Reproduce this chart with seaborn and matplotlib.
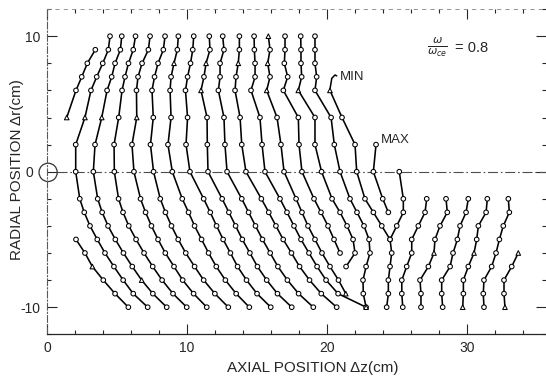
import matplotlib
matplotlib.use("Agg")
import matplotlib.pyplot as plt
from matplotlib.patches import Ellipse
from matplotlib.ticker import MultipleLocator
import pandas as pd
import seaborn as sns

# ---------------------------------------------------------------------------
# Measured wavefront positions: axial position z (cm) at each radial level r (cm)
# ---------------------------------------------------------------------------
r_upper = [10, 9, 8, 7, 6, 4, 2, 0]
r_lower = [-2, -3, -4, -5, -6, -7, -8, -9, -10]

front_a_r = [9, 8, 7, 6, 4]
front_a_z = [3.45, 2.88, 2.48, 2.07, 1.41]

front_l1_r = [-5, -6, -7, -8, -9, -10]
front_l1_z = [2.07, 2.71, 3.24, 4.02, 4.86, 5.81]

front_01_z = [4.50, 4.38, 3.98, 3.55, 3.14, 2.71, 2.05, 2.05,
              2.34, 2.66, 3.07, 3.59, 4.14, 4.78, 5.44, 6.16, 7.19]
front_02_z = [5.34, 5.24, 4.86, 4.62, 4.29, 3.91, 3.43, 3.31,
              3.62, 3.94, 4.36, 4.88, 5.46, 6.09, 6.76, 7.56, 8.55]
front_03_z = [6.32, 6.16, 5.82, 5.57, 5.36, 5.12, 4.79, 4.81,
              5.11, 5.43, 5.84, 6.36, 6.93, 7.55, 8.22, 9.00, 9.98]
front_04_z = [7.36, 7.24, 6.79, 6.50, 6.39, 6.41, 6.07, 6.21,
              6.68, 7.04, 7.46, 7.93, 8.45, 9.07, 9.69, 10.47, 11.41]
front_05_z = [8.43, 8.31, 7.93, 7.68, 7.50, 7.59, 7.39, 7.61,
              8.09, 8.46, 8.89, 9.37, 9.91, 10.54, 11.19, 11.99, 12.95]
front_06_z = [9.38, 9.31, 9.07, 8.86, 8.79, 8.86, 8.64, 8.95,
              9.66, 10.11, 10.54, 11.04, 11.54, 12.09, 12.74, 13.51, 14.45]
front_07_z = [10.48, 10.41, 10.25, 10.04, 9.89, 10.04, 9.93, 10.21,
              11.19, 11.66, 12.11, 12.58, 13.10, 13.61, 14.25, 15.00, 15.98]
front_08_z = [11.59, 11.64, 11.36, 11.21, 11.00, 11.43, 11.45, 11.50,
              12.51, 12.99, 13.47, 13.95, 14.49, 15.03, 15.69, 16.46, 17.48]
front_09_z = [12.55, 12.64, 12.36, 12.36, 12.24, 12.64, 12.71, 12.86,
              13.91, 14.40, 14.89, 15.39, 15.94, 16.49, 17.17, 17.97, 19.02]
front_10_z = [13.74, 13.74, 13.66, 13.50, 13.43, 13.79, 13.91, 14.21,
              15.31, 15.84, 16.35, 16.87, 17.46, 18.04, 18.75, 19.59, 20.69]
front_11_z = [14.79, 14.81, 14.86, 14.86, 14.57, 15.21, 15.36, 15.57,
              16.64, 17.14, 17.64, 18.14, 18.71, 19.29, 19.93, 20.79, 22.79]
front_12_z = [15.81, 15.93, 15.76, 15.93, 15.69, 16.43, 16.71, 16.93,
              17.79, 18.21, 18.64, 19.14, 19.64, 20.21, 20.82, 21.34]
front_13_z = [17.00, 17.00, 16.95, 17.19, 16.88, 17.95, 18.00, 18.21,
              19.07, 19.57, 20.07, 20.50, 20.93]
front_14_z = [18.12, 18.14, 18.14, 18.19, 17.95, 19.14, 19.14, 19.61,
              20.36, 20.93, 21.43, 21.86, 22.00, 21.36]
front_15_z = [19.14, 19.14, 19.14, 19.26, 19.14, 20.29, 20.52, 20.93,
              21.64, 22.14, 22.64, 23.00, 23.07, 22.79, 22.57, 22.59, 22.79]

front_min_r = [6, 4, 2, 0, -2, -3, -4, -5, -6, -7, -8, -9, -10]
front_min_z = [20.21, 21.07, 22.00, 22.12, 22.71, 23.31, 23.91, 24.50,
               24.62, 24.50, 24.38, 24.38, 24.26]

front_max_r = [2, 0, -2, -3]
front_max_z = [23.50, 23.31, 23.98, 24.38]

front_18_r = [0, -2, -3, -4, -5]
front_18_z = [25.16, 25.45, 25.45, 24.98, 24.50]

front_r1_z = [27.12, 27.00, 26.52, 26.05, 26.05, 25.69, 25.34, 25.34, 25.41]
front_r2_z = [28.50, 28.59, 28.07, 27.71, 27.64, 27.24, 26.64, 26.71, 26.71]
front_r3_z = [30.09, 29.93, 29.50, 29.31, 29.00, 28.79, 28.19, 28.19, 28.26]
front_r4_z = [31.45, 31.36, 30.81, 30.69, 30.50, 30.09, 29.74, 29.74, 29.69]
front_r5_z = [32.95, 33.02, 32.59, 32.31, 32.07, 31.76, 31.21, 31.16, 31.21]
front_r6_r = [-6, -7, -8, -9, -10]
front_r6_z = [33.66, 33.19, 32.64, 32.64, 32.71]

# points plotted with a triangle instead of a circle
triangle_points = [("A", 4), ("01", 4), ("02", 4), ("04", 4), ("06", 8),
                   ("08", 8), ("08", 6), ("10", 8), ("12", 10), ("12", 8),
                   ("12", 6), ("14", 6), ("12", -9), ("L1", -7), ("02", -8),
                   ("MIN", 6), ("R2", -6), ("R4", -6), ("R6", -6),
                   ("R4", -10), ("R6", -10), ("15", -10)]

full_r = r_upper + r_lower
fronts = {
    "A": (front_a_z, front_a_r),
    "L1": (front_l1_z, front_l1_r),
    "01": (front_01_z, full_r),
    "02": (front_02_z, full_r),
    "03": (front_03_z, full_r),
    "04": (front_04_z, full_r),
    "05": (front_05_z, full_r),
    "06": (front_06_z, full_r),
    "07": (front_07_z, full_r),
    "08": (front_08_z, full_r),
    "09": (front_09_z, full_r),
    "10": (front_10_z, full_r),
    "11": (front_11_z, full_r),
    "12": (front_12_z, r_upper + r_lower[:8]),
    "13": (front_13_z, r_upper + r_lower[:5]),
    "14": (front_14_z, r_upper + r_lower[:6]),
    "15": (front_15_z, full_r),
    "MIN": (front_min_z, front_min_r),
    "MAX": (front_max_z, front_max_r),
    "18": (front_18_z, front_18_r),
    "R1": (front_r1_z, r_lower),
    "R2": (front_r2_z, r_lower),
    "R3": (front_r3_z, r_lower),
    "R4": (front_r4_z, r_lower),
    "R5": (front_r5_z, r_lower),
    "R6": (front_r6_z, front_r6_r),
}

rows = []
tri = set(triangle_points)
for name, (zs, rs) in fronts.items():
    for i, (z, r) in enumerate(zip(zs, rs)):
        rows.append({"front": name, "order": i, "z": z, "r": r,
                     "mark": "tri" if (name, r) in tri else "circ"})
df = pd.DataFrame(rows)

# ---------------------------------------------------------------------------
sns.set_theme(style="white")
plt.rcParams["font.family"] = ["Liberation Sans", "DejaVu Sans"]
plt.rcParams["axes.unicode_minus"] = False
plt.rcParams["mathtext.fontset"] = "dejavusans"

W, H = 546, 379
fig = plt.figure(figsize=(W / 100, H / 100), dpi=100)
ax = fig.add_axes([47 / W, 1 - 334.3 / H, (W - 47) / W, (334.3 - 9.1) / H])
ax.set_xlim(0, 35.64)
ax.set_ylim(-12, 12)

# axis of symmetry and the antenna circle at the origin
ax.plot([0.68, 35.64], [0, 0], color="0.3", lw=0.8,
        linestyle=(0, (9, 2.5, 1.5, 2.5)), zorder=1)
ax.add_patch(Ellipse((0.08, -0.05), 1.3, 1.35, fill=False, ec="0.2",
                     lw=0.9, clip_on=False, zorder=2))

sns.lineplot(data=df, x="z", y="r", units="front", estimator=None,
             sort=False, color="black", lw=1.15, legend=False, ax=ax,
             zorder=2)
sns.scatterplot(data=df, x="z", y="r", style="mark",
                markers={"circ": "o", "tri": "^"}, s=11, color="white",
                edgecolor="black", linewidth=0.75, legend=False, ax=ax,
                zorder=3)

# MIN / MAX labels
ax.plot([20.21, 20.34, 20.57, 20.69], [6.08, 6.89, 7.14, 7.07],
        color="black", lw=1.1)
ax.text(20.93, 7.0, "MIN", fontsize=9.5, ha="left", va="center")
ax.text(23.84, 2.34, "MAX", fontsize=9.5, ha="left", va="center")

# frequency ratio annotation
ax.text(27.85, 9.15, r"$\frac{\omega}{\omega_{ce}}$", fontsize=11.5,
        ha="center", va="center")
ax.text(29.15, 9.12, "= 0.8", fontsize=10.5, ha="left", va="center")

# ticks and frame
ax.set_xticks([0, 10, 20, 30], labels=["0", "10", "20", "30"])
ax.set_yticks([-10, 0, 10], labels=["-10", "0", "10"])
ax.xaxis.set_minor_locator(MultipleLocator(2))
ax.yaxis.set_minor_locator(MultipleLocator(2))
ax.tick_params(which="both", direction="in", top=True, right=True,
               bottom=True, left=True, color="0.15", width=0.8,
               labelsize=10, pad=4.5)
ax.tick_params(which="major", length=7)
ax.tick_params(which="minor", length=3)
ax.yaxis.get_major_ticks()[1].set_pad(10)

ax.spines["bottom"].set_color("0.15")
ax.spines["bottom"].set_linewidth(0.9)
ax.spines["left"].set_color("0.35")
ax.spines["left"].set_linewidth(0.8)
ax.spines["left"].set_linestyle((0, (6, 2, 1, 2)))
ax.spines["top"].set_color("0.5")
ax.spines["top"].set_linewidth(0.6)
ax.spines["top"].set_linestyle((0, (4, 6)))
ax.spines["right"].set_visible(False)
ax.set_xlabel("")
ax.set_ylabel("")

fig.text(313 / W, 1 - 368.3 / H, "AXIAL POSITION \u0394z(cm)", fontsize=11,
         ha="center", va="center")
fig.text(16.7 / W, 1 - 170 / H, "RADIAL POSITION \u0394r(cm)", fontsize=11,
         ha="center", va="center", rotation=90)

fig.savefig("out.png", dpi=100)
